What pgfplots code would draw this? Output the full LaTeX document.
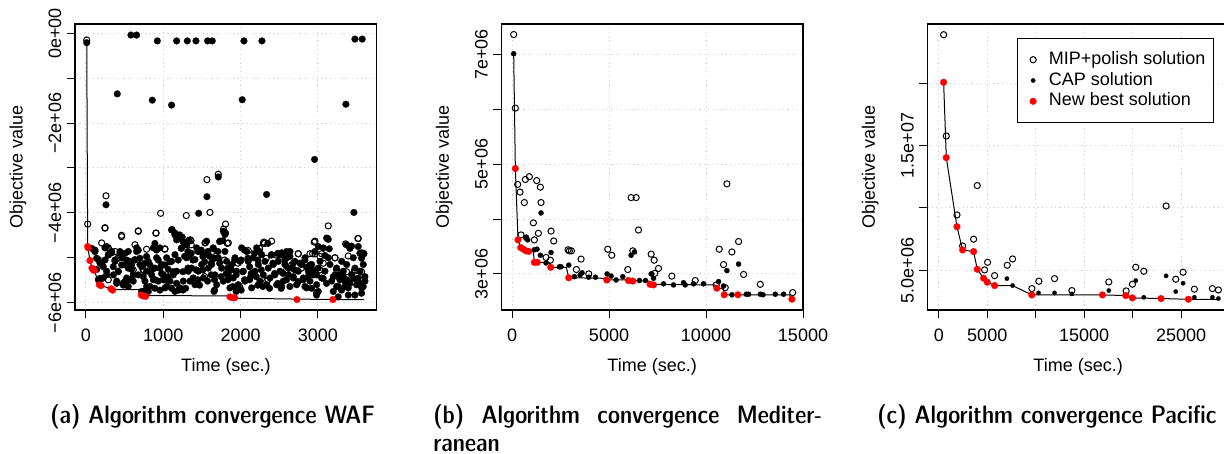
\documentclass[border=0pt]{standalone}
\usepackage{fontspec}
\setmainfont{Liberation Sans}
\usepackage{pgfplots}
\pgfplotsset{compat=1.18}

\definecolor{gridgray}{RGB}{211,211,211}
\definecolor{rred}{RGB}{255,0,0}

\newcommand{\capfont}{\fontfamily{lmss}\fontseries{sbc}\fontsize{12.6}{14}\selectfont}
\newcommand{\rfont}{\fontsize{9}{10}\selectfont}

\pgfplotsset{
  rpanel/.style={
    scale only axis, width=150.85pt, height=143pt, anchor=south west,
    axis line style={line width=0.6pt},
    tick align=outside, tick pos=left, major tick length=4pt,
    tick style={black, line width=0.5pt},
    xmajorgrids, ymajorgrids,
    major grid style={gridgray, line width=0.5pt, dash pattern=on 0.6pt off 1.6pt},
    scaled ticks=false,
    tick label style={font=\rfont},
    label style={font=\rfont},
    yticklabel style={rotate=90, anchor=center, yshift=6pt},
    xticklabel style={yshift=-2pt},
    xlabel={Time (sec.)}, ylabel={Objective value},
    xlabel style={at={(axis description cs:0.5,0)}, anchor=center, yshift=-28.5pt},
    ylabel style={at={([xshift=-28.5pt]axis description cs:0,0.5)}, anchor=center},
  },
  dotlegend/.style={legend image code/.code={\path[draw=none, fill=none] (-4pt,-1pt) rectangle (4pt,1pt); \draw[##1] plot coordinates {(0pt,0pt)};}},
  mipsol/.style={only marks, mark=o, mark size=1.55pt, mark options={draw=black, line width=0.5pt}},
  capbig/.style={only marks, mark=*, mark size=1.7pt, mark options={draw=black, fill=black, line width=0.1pt}},
  capmid/.style={only marks, mark=*, mark size=1.3pt, mark options={draw=black, fill=black, line width=0.1pt}},
  capsol/.style={only marks, mark=*, mark size=1.1pt, mark options={draw=black, fill=black, line width=0.1pt}},
  bestsol/.style={only marks, mark=*, mark size=1.7pt, mark options={draw=rred, fill=rred, line width=0.1pt}},
  bestline/.style={black, line width=0.5pt, no marks},
}

\begin{document}
\begin{tikzpicture}
\useasboundingbox (0,0) rectangle (612pt,227pt);

% (a) WAF
\begin{axis}[rpanel, at={(37.5pt,72pt)},
  xmin=-142, xmax=3762, ymin=-6.163e6, ymax=0.207e6,
  xtick={0,1000,2000,3000}, xticklabels={0,1000,2000,3000},
  ytick={-6e6,-5e6,-4e6,-3e6,-2e6,-1e6,0},
  yticklabels={−6e+06,,−4e+06,,−2e+06,,0e+00}]
\addplot[bestline] coordinates {(10,-0.21e6)(22,-4.75e6)(52,-5.06e6)(78,-5.23e6)(108,-5.28e6)(172,-5.60e6)(194,-5.62e6)(323,-5.69e6)(345,-5.71e6)(705,-5.71e6)(716,-5.84e6)(1855,-5.85e6)(1863,-5.88e6)(1924,-5.90e6)(2730,-5.92e6)(3195,-5.93e6)(3600,-5.93e6)};
\addplot[mipsol] coordinates {
(10,-0.15e6)(22,-4.25e6)(116,-4.83e6)(181,-5.46e6)(246,-4.33e6)(259,-3.62e6)(289,-4.79e6)(289,-5.49e6)
(375,-4.86e6)(418,-5.01e6)(440,-4.94e6)(461,-4.53e6)(547,-5.49e6)(612,-5.27e6)(634,-4.71e6)(677,-4.40e6)
(741,-5.27e6)(784,-4.81e6)(892,-5.49e6)(906,-4.45e6)(966,-4.01e6)(1021,-4.81e6)(1065,-5.49e6)(1298,-4.06e6)
(1349,-4.60e6)(1362,-4.71e6)(1535,-5.42e6)(1548,-4.66e6)(1565,-3.26e6)(1600,-5.46e6)(1604,-3.99e6)(1621,-4.90e6)
(1643,-4.79e6)(1643,-5.01e6)(1712,-3.14e6)(1780,-4.36e6)(1793,-5.05e6)(1806,-4.25e6)(1828,-4.68e6)(1966,-5.12e6)
(1987,-5.64e6)(2246,-4.79e6)(2303,-4.65e6)(2311,-4.68e6)(2332,-5.01e6)(2354,-5.49e6)(2461,-4.94e6)(2596,-5.27e6)
(2661,-5.16e6)(2747,-4.91e6)(2790,-5.23e6)(2932,-4.91e6)(2953,-4.65e6)(2963,-4.91e6)(3027,-5.27e6)(3027,-4.97e6)
(3070,-5.12e6)(3135,-4.29e6)(3221,-5.00e6)(3243,-5.27e6)(3264,-5.42e6)(3372,-5.31e6)(3394,-4.96e6)(3480,-5.27e6)
(3519,-4.57e6)(3566,-5.31e6)(3596,-4.91e6)
(246,-4.34e6)(461,-4.50e6)(677,-4.41e6)(905,-4.45e6)(1022,-4.80e6)(1359,-4.62e6)(1540,-4.67e6)(1842,-4.67e6)
(2100,-4.84e6)(2295,-4.67e6)(2402,-4.63e6)(2489,-4.93e6)(2747,-4.91e6)(2898,-4.91e6)(2963,-4.63e6)(3049,-4.91e6)
(3222,-5.00e6)(3360,-4.69e6)(3524,-4.57e6)(3567,-4.89e6)(3472,-5.30e6)(2338,-5.52e6)(2985,-5.78e6)(742,-5.26e6)
(418,-5.00e6)(289,-4.78e6)(203,-4.67e6)};
\addplot[capbig] coordinates {
(10,-0.21e6)(405,-1.35e6)(582,-0.04e6)(655,-0.04e6)(858,-1.49e6)(923,-0.17e6)(1108,-1.60e6)(1173,-0.17e6)
(1311,-0.17e6)(1423,-0.17e6)(1574,-0.17e6)(1634,-0.17e6)(2022,-1.48e6)(2044,-0.17e6)(2277,-0.17e6)(2958,-2.81e6)
(3363,-1.58e6)(3480,-0.13e6)(3574,-0.13e6)(1712,-3.20e6)(1565,-3.64e6)(259,-3.82e6)(2337,-3.59e6)(1458,-4.01e6)
(3467,-3.99e6)
(73,-4.79e6)(116,-4.86e6)(138,-5.01e6)(181,-5.12e6)(224,-5.20e6)(246,-5.05e6)(267,-4.75e6)(289,-4.94e6)
(332,-4.86e6)(353,-5.20e6)(375,-5.05e6)(418,-5.31e6)(461,-5.16e6)(504,-4.90e6)(526,-5.05e6)(547,-5.23e6)
(569,-5.49e6)(590,-5.16e6)(612,-5.38e6)(634,-5.05e6)(655,-4.86e6)(677,-4.83e6)(698,-5.01e6)(720,-5.20e6)
(741,-5.42e6)(763,-5.12e6)(784,-4.97e6)(828,-5.16e6)(849,-5.27e6)(871,-5.49e6)(892,-4.68e6)(914,-4.83e6)
(935,-5.05e6)(957,-5.23e6)(978,-5.35e6)(1000,-5.49e6)(1021,-5.16e6)(1043,-5.64e6)(1065,-5.42e6)(1086,-5.09e6)
(1108,-4.38e6)(1129,-5.31e6)(1151,-4.49e6)(1172,-4.60e6)(1172,-5.57e6)(1194,-5.05e6)(1202,-5.72e6)(159,-5.49e6)
(203,-5.46e6)(267,-5.38e6)(397,-5.57e6)(483,-5.61e6)(504,-5.53e6)(547,-5.64e6)(720,-5.75e6)(784,-5.64e6)
(892,-5.68e6)(957,-5.72e6)(1021,-5.49e6)(1108,-5.68e6)(1151,-5.75e6)
(1806,-4.45e6)(1772,-4.62e6)(1729,-4.64e6)(1212,-4.49e6)(1255,-4.64e6)(1233,-4.79e6)(1298,-4.71e6)(1319,-4.86e6)
(1276,-4.97e6)(1362,-4.90e6)(1384,-5.05e6)(1449,-4.86e6)(1492,-4.83e6)(1513,-4.97e6)(1578,-4.86e6)(1707,-4.86e6)
(1664,-5.01e6)(1729,-5.12e6)(1621,-5.12e6)(1535,-5.09e6)(1513,-5.27e6)(1427,-5.27e6)(1319,-5.23e6)(1255,-5.31e6)
(1384,-5.46e6)(1449,-5.49e6)(1621,-5.38e6)(1664,-5.49e6)(1750,-5.42e6)(1815,-5.35e6)(1836,-5.49e6)(1901,-5.64e6)
(1944,-5.75e6)(2009,-5.72e6)(1664,-5.72e6)(1470,-5.61e6)(1212,-5.68e6)(1255,-5.72e6)(1923,-5.05e6)(2009,-5.05e6)
(2052,-4.83e6)(2095,-5.01e6)(2117,-5.20e6)(2138,-5.35e6)(2181,-4.90e6)(2224,-5.05e6)(2246,-4.86e6)(2268,-5.27e6)
(2354,-4.68e6)(2397,-4.94e6)(2418,-5.12e6)(2483,-4.90e6)(2440,-5.35e6)(2224,-5.61e6)(2289,-5.64e6)(2375,-5.68e6)
(2483,-5.57e6)(2526,-5.68e6)(2052,-5.49e6)(2117,-5.49e6)(2203,-5.42e6)(2030,-5.31e6)(1944,-5.38e6)(1836,-5.23e6)
(1880,-5.27e6)(1656,-5.75e6)(1289,-5.68e6)(1113,-4.37e6)(1246,-4.54e6)(1302,-4.71e6)(1332,-4.61e6)
(3135,-4.59e6)(3006,-4.75e6)(3148,-4.80e6)(3415,-4.79e6)(3092,-4.95e6)(3566,-5.01e6)(3544,-4.90e6)(2532,-4.94e6)
(2596,-4.86e6)(2575,-5.05e6)(2639,-4.97e6)(2682,-5.12e6)(2704,-5.27e6)(2618,-5.23e6)(2553,-5.35e6)(2769,-5.12e6)
(2833,-5.05e6)(2855,-5.21e6)(2898,-5.16e6)(2941,-5.27e6)(2984,-5.38e6)(3070,-5.46e6)(2876,-5.42e6)(2812,-5.49e6)
(2747,-5.53e6)(2682,-5.42e6)(2596,-5.49e6)(2532,-5.64e6)(2639,-5.64e6)(2833,-5.64e6)(2919,-5.68e6)(3006,-5.75e6)
(3113,-5.57e6)(3200,-5.42e6)(3264,-5.38e6)(3286,-5.49e6)(3329,-5.42e6)(3372,-5.49e6)(3415,-5.57e6)(3458,-5.46e6)
(3501,-5.49e6)(3544,-5.57e6)(3588,-5.64e6)(3609,-5.42e6)(3243,-5.64e6)(3307,-5.72e6)(3350,-5.64e6)(3394,-5.83e6)
(3480,-5.83e6)(3566,-5.79e6)(3264,-5.87e6)(2984,-5.83e6)(3126,-4.57e6)(3372,-4.71e6)(3523,-4.75e6)(3588,-4.90e6)
(116,-4.86e6)(160,-5.04e6)(203,-5.15e6)(246,-4.78e6)(267,-5.30e6)(224,-5.45e6)(289,-4.93e6)(138,-5.26e6)
(332,-4.89e6)(375,-5.08e6)(418,-5.30e6)(461,-5.00e6)(505,-5.15e6)(526,-5.45e6)(548,-4.86e6)(591,-5.26e6)
(634,-5.04e6)(656,-4.78e6)(677,-5.38e6)(612,-5.52e6)(483,-5.56e6)(397,-5.52e6)(354,-5.38e6)(440,-4.86e6)
(569,-5.08e6)(699,-5.15e6)
(763,-5.52e6)(785,-5.30e6)(807,-5.08e6)(828,-5.64e6)(850,-5.38e6)(893,-5.23e6)(914,-5.00e6)(936,-5.52e6)
(957,-4.78e6)(979,-5.15e6)(1001,-5.38e6)(1022,-5.67e6)(1044,-5.00e6)(1065,-5.26e6)(1087,-5.52e6)(1108,-5.08e6)
(1130,-5.38e6)(1152,-4.93e6)(871,-4.78e6)(742,-5.75e6)(807,-5.75e6)
(1152,-4.45e6)(1195,-4.56e6)(1238,-4.78e6)(1281,-4.67e6)(1302,-5.00e6)(1346,-4.93e6)(1367,-5.23e6)(1389,-5.45e6)
(1410,-5.04e6)(1432,-4.78e6)(1453,-5.30e6)(1475,-4.86e6)(1497,-5.15e6)(1518,-5.45e6)(1540,-4.93e6)(1561,-4.63e6)
(1324,-5.30e6)(1259,-5.52e6)(1216,-5.67e6)(1173,-5.30e6)(1583,-5.23e6)(1574,-5.52e6)(1410,-5.60e6)(1346,-5.52e6)
(1604,-4.97e6)(1626,-5.15e6)(1648,-4.78e6)(1669,-5.38e6)(1691,-5.60e6)(1712,-5.00e6)(1734,-4.63e6)(1755,-5.23e6)
(1777,-5.52e6)(1798,-4.86e6)(1820,-5.08e6)(1842,-5.38e6)(1863,-5.67e6)(1885,-5.15e6)(1906,-5.45e6)(1928,-5.00e6)
(1949,-5.30e6)(1971,-5.60e6)(1993,-5.08e6)(2014,-4.78e6)(1777,-4.41e6)(1798,-4.48e6)
(2036,-5.30e6)(2057,-5.52e6)(2079,-4.86e6)(2100,-5.08e6)(2122,-5.45e6)(2144,-5.67e6)(2165,-5.00e6)(2187,-5.30e6)
(2208,-4.78e6)(2230,-5.15e6)(2251,-5.52e6)(2273,-4.93e6)(2295,-5.38e6)(2316,-5.08e6)(2338,-5.60e6)(2359,-5.23e6)
(2381,-5.45e6)(2402,-4.93e6)(2424,-5.15e6)(2445,-5.38e6)
(2467,-5.60e6)(2489,-5.08e6)(2510,-5.30e6)(2532,-4.89e6)(2553,-5.52e6)(2575,-5.15e6)(2596,-5.00e6)(2618,-5.38e6)
(2640,-4.86e6)(2661,-5.23e6)(2683,-5.45e6)(2704,-5.08e6)(2726,-5.60e6)(2747,-5.30e6)(2790,-5.15e6)(2812,-5.45e6)
(2834,-5.00e6)(2855,-5.67e6)(2877,-5.30e6)
(2898,-5.52e6)(2920,-5.15e6)(2941,-5.38e6)(2963,-4.86e6)(2985,-5.60e6)(3006,-5.23e6)(3028,-5.08e6)(3049,-5.45e6)
(3071,-4.78e6)(3092,-5.30e6)(3114,-4.56e6)(3136,-5.00e6)(3157,-5.15e6)(3179,-5.52e6)(3200,-5.75e6)(3222,-5.38e6)
(3243,-5.23e6)(3265,-5.64e6)(3286,-5.45e6)(3308,-5.08e6)
(3330,-5.30e6)(3351,-5.52e6)(3373,-5.15e6)(3394,-5.67e6)(3416,-4.78e6)(3437,-5.38e6)(3459,-5.00e6)(3481,-5.23e6)
(3502,-5.60e6)(3524,-5.45e6)(3545,-5.30e6)(3567,-5.67e6)(3588,-5.15e6)(3610,-5.52e6)(3437,-4.74e6)(3567,-4.93e6)};
\addplot[bestsol] coordinates {
(22,-4.75e6)(30,-4.78e6)(52,-5.06e6)(78,-5.23e6)(95,-5.27e6)(108,-5.28e6)(172,-5.60e6)(194,-5.62e6)
(323,-5.69e6)(345,-5.72e6)(716,-5.83e6)(740,-5.85e6)(772,-5.86e6)(1863,-5.87e6)(1893,-5.89e6)(1924,-5.89e6)
(2730,-5.93e6)(3195,-5.93e6)};
\end{axis}

% (b) Mediterranean
\begin{axis}[rpanel, at={(250.65pt,72pt)},
  xmin=-552, xmax=15000, ymin=2.343e6, ymax=7.552e6,
  xtick={0,5000,10000,15000}, xticklabels={0,5000,10000,15000},
  ytick={3e6,4e6,5e6,6e6,7e6},
  yticklabels={3e+06,,5e+06,,7e+06}]
\addplot[bestline] coordinates {(86,7.01e6)(172,4.92e6)(310,3.62e6)(447,3.48e6)(585,3.45e6)(722,3.42e6)(860,3.41e6)(1100,3.41e6)(1152,3.21e6)(1307,3.21e6)(1900,3.21e6)(1995,3.12e6)(2800,3.12e6)(2924,2.93e6)(4800,2.92e6)(4885,2.89e6)(5950,2.89e6)(6003,2.88e6)(7050,2.87e6)(7121,2.81e6)(10450,2.80e6)(10561,2.74e6)(10900,2.73e6)(10939,2.62e6)(14300,2.62e6)(14431,2.54e6)};
\addplot[mipsol] coordinates {
(86,7.36e6)(172,6.02e6)(292,4.63e6)(413,4.49e6)(636,4.30e6)(688,4.72e6)(894,4.77e6)(1273,4.70e6)
(1462,4.58e6)(1496,4.30e6)(1101,3.93e6)(1359,3.74e6)(1152,3.62e6)(464,3.71e6)(2012,3.78e6)(2150,3.60e6)
(1754,3.30e6)(1978,3.25e6)(2890,3.44e6)(2958,3.42e6)(3062,3.42e6)(3320,3.08e6)(3560,3.27e6)(3956,3.00e6)
(4936,3.45e6)(5143,3.34e6)(6140,4.39e6)(6398,4.39e6)(6519,3.80e6)(5968,3.08e6)(6226,3.42e6)(7172,3.36e6)
(7327,3.25e6)(7551,3.10e6)(7362,3.01e6)(8239,2.96e6)(9443,2.88e6)(11077,4.64e6)(10681,3.45e6)(10905,3.17e6)
(11335,3.40e6)(11679,3.59e6)(11937,2.99e6)(10991,2.75e6)(12797,2.81e6)(14466,2.66e6)(10526,2.80e6)};
\addplot[capmid] coordinates {
(86,7.01e6)(740,3.67e6)(722,3.65e6)(808,3.62e6)(1152,3.44e6)(1290,3.45e6)(1496,4.11e6)(1462,3.34e6)
(1754,3.20e6)(2012,3.39e6)(2442,3.13e6)(2528,3.13e6)(2924,3.16e6)(3216,2.95e6)(3509,2.98e6)(3612,3.02e6)
(3956,2.94e6)(4300,2.94e6)(4902,3.00e6)(5108,2.96e6)(5366,2.89e6)(5710,2.95e6)(6140,3.34e6)(6312,3.40e6)
(6570,2.88e6)(6880,2.88e6)(7172,3.00e6)(7207,3.00e6)(7293,2.92e6)(7809,2.82e6)(8325,2.80e6)(8841,2.84e6)
(8927,2.80e6)(9357,2.82e6)(9873,2.82e6)(10647,2.86e6)(10905,2.78e6)(11077,3.06e6)(11679,3.18e6)(11335,2.62e6)
(12075,2.63e6)(12195,2.63e6)(12797,2.63e6)(12935,2.62e6)(13571,2.63e6)(14001,2.63e6)};
\addplot[bestsol] coordinates {
(172,4.92e6)(310,3.62e6)(447,3.48e6)(585,3.45e6)(722,3.42e6)(860,3.41e6)(1152,3.21e6)(1307,3.21e6)
(1995,3.12e6)(2924,2.93e6)(4885,2.89e6)(6003,2.88e6)(6226,2.87e6)(7121,2.81e6)(7293,2.80e6)(10561,2.74e6)
(10939,2.62e6)(11645,2.62e6)(14431,2.54e6)};
\end{axis}

% (c) Pacific
\begin{axis}[rpanel, at={(463.65pt,72pt)},
  xmin=-1186, xmax=29950, ymin=1.81e6, ymax=24.77e6,
  xtick={0,5000,10000,15000,20000,25000}, xticklabels={0,5000,,15000,,25000},
  ytick={5e6,10e6,15e6,20e6},
  yticklabels={5.0e+06,,1.5e+07,},
  legend cell align=left,
  legend style={at={(0.95,0.951)}, anchor=north east, draw=black, line width=0.5pt,
    font=\rfont, inner xsep=4pt, inner ysep=6.15pt,
    row sep=1.5pt, column sep=3.85pt,
    nodes={inner sep=0pt, text height=6.7pt, text depth=2.2pt}}]
\addplot[bestline, forget plot] coordinates {(498,20.09e6)(773,14.04e6)(1873,8.50e6)(2457,6.63e6)(3591,6.50e6)(3969,5.08e6)(4623,4.36e6)(5001,4.04e6)(5757,3.77e6)(7613,3.77e6)(9605,3.02e6)(16892,3.02e6)(19298,2.97e6)(19985,2.78e6)(22941,2.73e6)(25759,2.67e6)(28853,2.67e6)};
\addplot[mipsol, dotlegend] coordinates {
(498,23.91e6)(773,15.78e6)(3969,11.80e6)(1873,9.44e6)(2457,6.95e6)(3591,7.49e6)(4726,5.03e6)(5035,5.64e6)
(5757,4.57e6)(7063,5.40e6)(7613,5.91e6)(9605,3.53e6)(10327,4.12e6)(11943,4.33e6)(13730,3.37e6)(17545,4.06e6)
(19332,3.34e6)(19985,3.88e6)(20329,5.24e6)(21154,4.92e6)(23457,10.16e6)(24453,4.28e6)(25209,4.84e6)(26378,3.48e6)
(28234,3.53e6)(28853,3.42e6)};
\addlegendentry{MIP+polish solution}
\addplot[capsol, dotlegend] coordinates {
(7028,4.33e6)(7613,3.77e6)(10293,3.18e6)(11943,3.18e6)(13730,3.10e6)(17545,3.37e6)(20329,4.17e6)(21154,2.83e6)
(23457,4.55e6)(24453,3.29e6)(25209,3.96e6)(26378,2.83e6)(28234,2.83e6)(28853,2.73e6)};
\addlegendentry{CAP solution}
\addplot[bestsol, dotlegend] coordinates {
(498,20.09e6)(773,14.04e6)(1873,8.50e6)(2457,6.63e6)(3591,6.50e6)(3969,5.08e6)(4623,4.36e6)(5001,4.04e6)
(5757,3.77e6)(9605,3.02e6)(16892,3.02e6)(19298,2.97e6)(19985,2.78e6)(22941,2.73e6)(25759,2.67e6)};
\addlegendentry{New best solution}
\end{axis}

% sub-captions
\node[anchor=base west, inner sep=0pt, font=\capfont] at (25pt,15pt) {(a) Algorithm convergence WAF};
\node[anchor=base west, inner sep=0pt, font=\capfont] at (216.5pt,15pt) {\makebox[194.5pt][s]{(b) Algorithm convergence Mediter-}};
\node[anchor=base west, inner sep=0pt, font=\capfont] at (216.5pt,1pt) {ranean};
\node[anchor=base west, inner sep=0pt, font=\capfont] at (438.5pt,15pt) {(c) Algorithm convergence Pacific};
\end{tikzpicture}
\end{document}
